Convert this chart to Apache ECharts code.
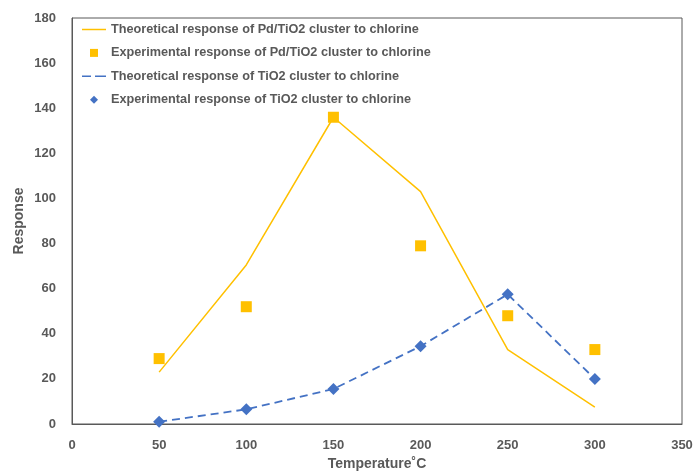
<!DOCTYPE html>
<html>
<head>
<meta charset="utf-8">
<script src="https://cdn.jsdelivr.net/npm/echarts@6/dist/echarts.min.js"></script>
<style>
  html, body { margin: 0; padding: 0; background: #fff; }
  #main { width: 694px; height: 471px; }
</style>
</head>
<body>
<div id="main"></div>
<script>
// temperatures (°C)
var temps = [50, 100, 150, 200, 250, 300];
// Pd/TiO2 cluster
var pdTheory = [23, 70.5, 136, 103, 33, 7.5];
var pdExp = [29, 52, 136, 79, 48, 33];
// TiO2 cluster
var tiTheory = [1, 6.5, 15.5, 34.5, 57.5, 20];
var tiExp = [1, 6.5, 15.5, 34.5, 57.5, 20];

var seriesNames = [
    'Theoretical response of Pd/TiO2 cluster to chlorine',
    'Experimental response of Pd/TiO2 cluster to chlorine',
    'Theoretical response of TiO2 cluster to chlorine',
    'Experimental response of TiO2 cluster to chlorine'
];

function pairs(ys) {
    var res = [];
    for (var i = 0; i < temps.length; i++) {
        res.push([temps[i], ys[i]]);
    }
    return res;
}

var textGray = '#595959';
var font = 'Liberation Sans';

// legend icons (keep aspect inside the 24x8 icon box)
var iconSolid = 'path://M0,0h24v1.5h-24z';
var iconDashed = 'path://M0,0h9v1.6h-9zM13,0h11v1.6h-11z';
var iconSquare = 'path://M0,0h10v10h-10z';
var iconDiamond = 'path://M5,0L10,5L5,10L0,5z';

var chart = echarts.init(document.getElementById('main'));
var option = {
    animation: false,
    backgroundColor: '#fff',
    textStyle: { fontFamily: font },
    grid: {
        left: 72,
        right: 12,
        top: 18,
        bottom: 47,
        outerBoundsMode: 'none',
        containLabel: false,
        show: true,
        borderColor: '#595959',
        borderWidth: 1
    },
    legend: {
        orient: 'vertical',
        left: 77,
        top: 18,
        itemWidth: 24,
        itemHeight: 8,
        itemGap: 10.4,
        data: [
            { name: seriesNames[0], icon: iconSolid },
            { name: seriesNames[1], icon: iconSquare },
            { name: seriesNames[2], icon: iconDashed },
            { name: seriesNames[3], icon: iconDiamond }
        ],
        itemStyle: { borderWidth: 0, opacity: 1 },
        textStyle: {
            color: textGray,
            fontWeight: 'bold',
            fontSize: 12.7,
            fontFamily: font
        }
    },
    xAxis: {
        type: 'value',
        min: 0,
        max: 350,
        interval: 50,
        name: 'Temperature˚C',
        nameLocation: 'middle',
        nameGap: 33,
        nameMoveOverlap: false,
        nameTextStyle: { color: textGray, fontWeight: 'bold', fontSize: 14 },
        axisLine: { show: true, lineStyle: { color: '#595959' } },
        axisTick: { show: false },
        splitLine: { show: false },
        axisLabel: { color: textGray, fontWeight: 'bold', fontSize: 13, margin: 15 }
    },
    yAxis: {
        type: 'value',
        min: 0,
        max: 180,
        interval: 20,
        name: 'Response',
        nameLocation: 'middle',
        nameGap: 46,
        nameMoveOverlap: false,
        nameTextStyle: { color: textGray, fontWeight: 'bold', fontSize: 14 },
        axisLine: { show: true, lineStyle: { color: '#595959' } },
        axisTick: { show: false },
        splitLine: { show: false },
        axisLabel: { color: textGray, fontWeight: 'bold', fontSize: 13, margin: 16 }
    },
    series: [
        {
            name: seriesNames[0],
            type: 'line',
            data: pairs(pdTheory),
            symbol: 'none',
            itemStyle: { color: '#FFC000' },
            lineStyle: { color: '#FFC000', width: 1.5 }
        },
        {
            name: seriesNames[1],
            type: 'scatter',
            data: pairs(pdExp),
            symbol: 'rect',
            symbolSize: 11,
            itemStyle: { color: '#FFC000', opacity: 1 }
        },
        {
            name: seriesNames[2],
            type: 'line',
            data: pairs(tiTheory),
            symbol: 'none',
            itemStyle: { color: '#4472C4' },
            lineStyle: { color: '#4472C4', width: 1.8, type: [8, 5] }
        },
        {
            name: seriesNames[3],
            type: 'scatter',
            data: pairs(tiExp),
            symbol: 'diamond',
            symbolSize: 12,
            itemStyle: { color: '#4472C4', opacity: 1 }
        }
    ]
};
chart.setOption(option);

window.addEventListener('resize', function () {
    chart.resize();
});
</script>
</body>
</html>
